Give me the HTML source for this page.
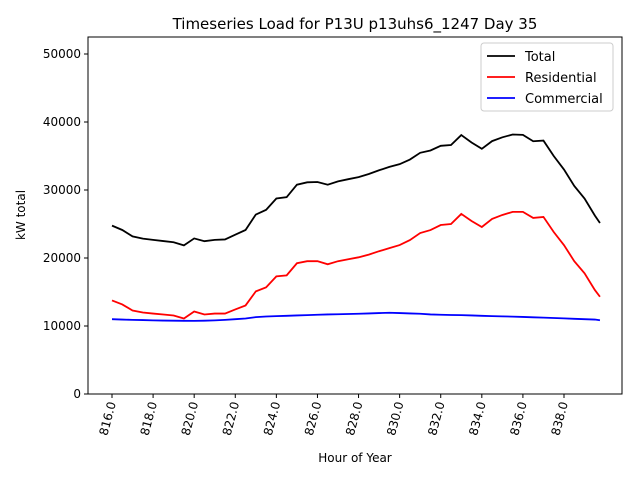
<!DOCTYPE html>
<html><head><meta charset="utf-8"><style>
body{margin:0;background:#fff;font-family:"Liberation Sans","DejaVu Sans",sans-serif}
svg text{font-family:"DejaVu Sans","Liberation Sans",sans-serif}
</style></head><body>
<svg id="chart" width="640" height="480"></svg>
<script>
const hours=[];for(let h=816;h<=839.5;h+=0.5)hours.push(h);hours.push(839.75);
const residential=[13760,13170,12280,11980,11830,11690,11540,11100,12130,11690,11830,11830,12430,13020,15090,15680,17300,17450,19230,19530,19530,19080,19530,19820,20100,20500,21000,21450,21900,22630,23670,24110,24850,25000,26480,25440,24560,25740,26330,26780,26780,25890,26040,23820,21890,19530,17750,15300,14300];
const commercial=[11000,10950,10900,10870,10830,10800,10780,10760,10750,10780,10830,10900,11000,11100,11300,11400,11450,11500,11550,11600,11650,11700,11730,11770,11800,11850,11900,11950,11900,11850,11800,11700,11650,11620,11600,11550,11500,11450,11420,11380,11330,11280,11230,11180,11120,11060,11000,10950,10850];
const total=residential.map((v,i)=>v+commercial[i]);
const xTicks=[816,818,820,822,824,826,828,830,832,834,836,838];
const yTicks=[0,10000,20000,30000,40000,50000];
const L=88,R=622,T=37,B=394;
const X=h=>112+(h-816)*(564-112)/22;
const Y=v=>B-v*(B-326)/10000;
const svg=document.getElementById('chart');const NS='http://www.w3.org/2000/svg';
function el(t,a,txt){const e=document.createElementNS(NS,t);for(const k in a)e.setAttribute(k,a[k]);if(txt!==undefined)e.textContent=txt;svg.appendChild(e);return e;}
let e=el('rect',{x:L,y:T,width:R-L,height:B-T,fill:'none',stroke:'#000','stroke-width':1});


xTicks.forEach(h=>{const x=X(h);
 let t=el('line',{x1:x,x2:x,y1:B,y2:B+4,stroke:'#000'});
 
 
 let l=el('text',{x:0,y:0,'font-size':12,'text-anchor':'end',transform:`translate(${x+4},${B+9}) rotate(-75)`},h.toFixed(1));
 
 
});
yTicks.forEach(v=>{const y=Y(v);
 let t=el('line',{x1:L-4,x2:L,y1:y,y2:y,stroke:'#000'});
 
 
 let l=el('text',{x:L-7,y:y+4,'font-size':12,'text-anchor':'end'},v);
 
 
});
function line(arr,c,name){const p=el('polyline',{points:arr.map((v,i)=>X(hours[i])+','+Y(v)).join(' '),fill:'none',stroke:c,'stroke-width':1.8});
 
 }
line(total,'#000','total-line');line(residential,'#f00','residential-line');line(commercial,'#00f','commercial-line');
e=el('text',{x:355,y:29,'font-size':15,'text-anchor':'middle'},'Timeseries Load for P13U p13uhs6_1247  Day 35');


e=el('text',{x:355,y:462,'font-size':12,'text-anchor':'middle'},'Hour of Year');


e=el('text',{x:0,y:0,'font-size':12,'text-anchor':'middle',transform:'translate(25,215) rotate(-90)'},'kW total');


e=el('rect',{x:481,y:43,width:132,height:68,rx:3,fill:'#fff',stroke:'#ccc'});


[['Total','#000'],['Residential','#f00'],['Commercial','#00f']].forEach((d,i)=>{const y=56+i*21;
 let s=el('line',{x1:487,x2:515,y1:y,y2:y,stroke:d[1],'stroke-width':1.8});
 
 
 let t=el('text',{x:525,y:y+5,'font-size':13},d[0]);
 
 
});
</script></body></html>
